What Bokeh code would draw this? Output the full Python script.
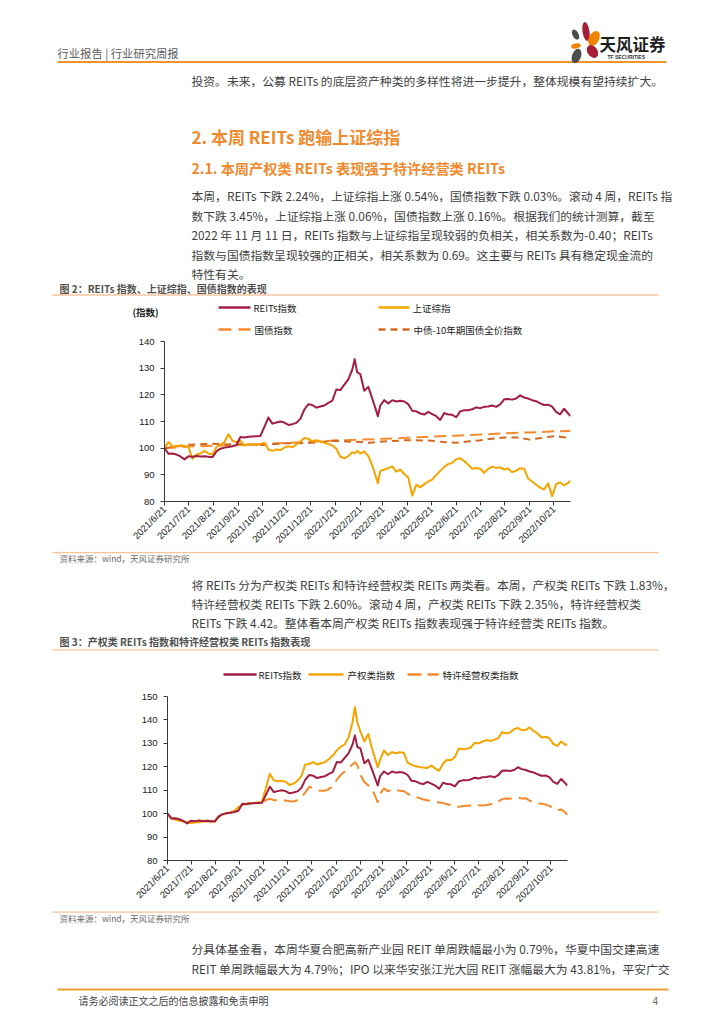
import math
import pandas as pd
from bokeh.plotting import figure
from bokeh.models import Range1d, FixedTicker, CustomJSTickFormatter
from bokeh.layouts import column
from bokeh.core.properties import value
from bokeh.embed import file_html
from bokeh.resources import INLINE

# ---------------- data ----------------
GRID_DATES = [
    "2021-06-21", "2021-06-26", "2021-07-01", "2021-07-06", "2021-07-11", "2021-07-16", "2021-07-21", "2021-07-26",
    "2021-07-31", "2021-08-05", "2021-08-10", "2021-08-15", "2021-08-20", "2021-08-25", "2021-08-30", "2021-09-04",
    "2021-09-09", "2021-09-14", "2021-09-19", "2021-09-24", "2021-09-29", "2021-10-04", "2021-10-09", "2021-10-14",
    "2021-10-19", "2021-10-24", "2021-10-29", "2021-11-03", "2021-11-08", "2021-11-13", "2021-11-18", "2021-11-23",
    "2021-11-28", "2021-12-03", "2021-12-08", "2021-12-13", "2021-12-18", "2021-12-23", "2021-12-28", "2022-01-02",
    "2022-01-07", "2022-01-12", "2022-01-17", "2022-01-22", "2022-01-27", "2022-02-01", "2022-02-06", "2022-02-11",
    "2022-02-14", "2022-02-17", "2022-02-21", "2022-02-26", "2022-03-03", "2022-03-08", "2022-03-15", "2022-03-18",
    "2022-03-23", "2022-03-28", "2022-04-02", "2022-04-07", "2022-04-12", "2022-04-17", "2022-04-22", "2022-04-27",
    "2022-05-02", "2022-05-07", "2022-05-12", "2022-05-17", "2022-05-22", "2022-05-27", "2022-06-01", "2022-06-06",
    "2022-06-11", "2022-06-16", "2022-06-21", "2022-06-26", "2022-07-01", "2022-07-06", "2022-07-11", "2022-07-16",
    "2022-07-21", "2022-07-26", "2022-07-31", "2022-08-05", "2022-08-10", "2022-08-15", "2022-08-20", "2022-08-25",
    "2022-08-30", "2022-09-04", "2022-09-09", "2022-09-14", "2022-09-19", "2022-09-24", "2022-09-29", "2022-10-04",
    "2022-10-09", "2022-10-14", "2022-10-19", "2022-10-24", "2022-10-29", "2022-11-03", "2022-11-08", "2022-11-11",
]

REITS = [
    100.0, 97.9, 98.0, 97.6, 96.9, 95.8, 97.0, 96.8, 97.1, 96.9,
    97.0, 96.8, 96.6, 98.8, 99.8, 100.2, 100.4, 100.7, 101.2, 104.2,
    104.0, 104.3, 104.4, 104.5, 104.6, 108.0, 111.5, 109.2, 109.6, 110.0,
    109.6, 108.7, 109.0, 109.5, 111.0, 114.5, 116.5, 116.2, 115.2, 115.6,
    116.0, 117.0, 117.8, 122.0, 121.8, 123.8, 125.8, 129.5,
    133.4, 128.5, 127.8, 121.5, 123.0, 118.6, 112.0, 116.0,
    118.0, 116.8, 118.0, 117.5, 117.8, 117.5, 116.5, 114.0, 113.8, 113.0,
    112.6, 113.6, 112.8, 112.0, 110.6, 113.2, 112.6, 112.5, 111.6, 113.8,
    114.2, 114.2, 114.6, 115.3, 115.0, 115.5, 115.6, 116.0, 115.5, 116.4,
    118.3, 118.4, 118.2, 118.6, 119.8, 119.0, 118.6, 118.0, 117.6, 116.8,
    116.2, 116.3, 115.6, 113.6, 112.7, 114.8, 113.0,
    112.0,
]

SSE = [
    100.0, 102.3, 100.6, 100.8, 101.0, 100.8, 100.5, 96.0, 97.6, 98.0,
    99.0, 98.0, 97.6, 100.4, 101.3, 102.2, 105.2, 102.8, 102.2, 102.8,
    100.9, 101.5, 101.5, 101.1, 101.6, 102.0, 99.5, 99.0, 99.5, 99.3,
    100.2, 100.7, 100.3, 101.5, 102.5, 103.8, 103.5, 102.6, 103.0, 102.6,
    102.0, 101.6, 101.0, 99.8, 96.8, 96.2, 97.0, 98.5,
    98.0, 99.0, 98.0, 98.8, 97.0, 93.5, 86.8, 91.5,
    92.0, 92.5, 93.2, 91.2, 92.0, 90.3, 89.0, 82.2, 86.3, 85.3,
    86.5, 87.5, 88.2, 90.0, 91.5, 93.0, 94.0, 94.5, 95.8, 96.2,
    95.2, 93.8, 92.3, 92.6, 92.3, 90.8, 92.2, 93.0, 92.6, 92.8,
    92.0, 92.4, 91.0, 91.5, 92.5, 92.3, 88.6, 87.5, 86.3, 85.2,
    84.5, 86.8, 82.0, 86.5, 87.2, 86.0, 87.0,
    87.8,
]

PROPERTY = [
    100.0, 98.0, 97.5, 97.0, 96.6, 96.3, 96.0, 96.2, 96.3, 96.6,
    96.8, 96.6, 96.8, 98.5, 99.8, 100.2, 100.5, 101.0, 102.8, 103.8,
    104.2, 104.5, 104.6, 104.8, 105.0, 111.0, 117.0, 114.2, 113.8, 114.0,
    113.6, 112.2, 112.8, 114.0, 116.0, 121.0, 121.2, 122.0, 121.0, 121.5,
    122.0, 123.3, 124.8, 127.0, 128.6, 129.5, 132.5, 139.0,
    145.5, 139.0, 135.0, 130.8, 134.0, 127.5, 119.8, 123.0,
    127.0, 125.0, 126.3, 125.8, 126.2, 126.0, 121.8, 120.8, 120.2, 119.9,
    119.7, 119.5, 120.5, 119.3, 118.3, 121.4, 123.0, 122.8, 124.2, 127.8,
    127.5, 127.7, 128.2, 130.2, 130.0, 130.8, 131.4, 131.0, 131.6, 132.2,
    134.8, 134.2, 134.6, 136.0, 136.6, 135.6, 135.8, 136.8, 135.3, 134.2,
    132.5, 132.8, 132.2, 129.8, 128.9, 130.8, 129.4,
    129.5,
]

FRANCHISE = [
    100.0, 98.0, 97.6, 97.2, 96.8, 96.5, 96.2, 96.4, 96.5, 96.8,
    97.0, 96.8, 96.9, 98.6, 99.8, 100.2, 100.5, 101.0, 102.8, 103.8,
    104.2, 104.4, 104.5, 104.6, 104.6, 105.8, 106.3, 105.8, 105.6, 105.5,
    105.6, 105.3, 105.2, 105.8, 107.0, 109.0, 111.5, 110.8, 110.0, 109.8,
    109.8, 110.5, 111.8, 114.5, 116.5, 118.0, 119.5, 121.0,
    122.0, 120.8, 116.5, 113.5, 112.0, 110.5, 104.8, 108.5,
    110.8, 109.5, 110.4, 110.0, 109.8, 109.6, 108.5, 107.8, 107.2, 106.6,
    106.0, 105.7, 105.5, 105.0, 104.8, 104.5, 104.0, 103.7, 103.0, 102.9,
    103.3, 103.4, 103.5, 103.6, 103.6, 103.5, 103.7, 104.0, 104.6, 105.2,
    106.2, 106.5, 106.4, 106.8, 106.9, 106.5, 106.6, 105.5, 104.9, 104.5,
    104.2, 103.9, 103.3, 102.2, 101.5, 101.8, 100.6,
    99.4,
]

BOND_DATES = ["2021-06-21", "2021-07-21", "2021-08-21", "2021-09-21", "2021-10-21", "2021-11-21",
              "2021-12-21", "2022-01-21", "2022-02-21", "2022-03-21", "2022-04-21", "2022-05-21",
              "2022-06-21", "2022-07-21", "2022-08-21", "2022-09-21", "2022-10-21", "2022-11-11"]
BOND = [100.0, 100.6, 100.9, 101.2, 101.6, 102.0, 102.4, 102.9, 103.2, 103.5, 103.9, 104.3,
        104.7, 105.1, 105.6, 105.9, 106.3, 106.4]

CGB10_DATES = ["2021-06-21", "2021-07-05", "2021-07-21", "2021-08-05", "2021-08-21", "2021-09-05",
               "2021-09-21", "2021-10-21", "2021-11-21", "2021-12-21", "2022-01-21", "2022-02-05",
               "2022-02-21", "2022-03-05", "2022-03-21", "2022-04-21", "2022-05-21", "2022-06-05",
               "2022-06-21", "2022-07-05", "2022-07-21", "2022-08-05", "2022-08-21", "2022-09-05",
               "2022-09-21", "2022-10-05", "2022-10-21", "2022-11-11"]
CGB10 = [100.0, 100.6, 101.3, 101.5, 101.7, 101.4, 101.5, 101.2, 101.8, 102.0, 102.8, 102.5,
         102.3, 102.0, 102.5, 103.0, 102.8, 102.3, 102.0, 102.5, 103.0, 103.5, 104.0, 104.0,
         103.2, 103.8, 104.5, 103.8]

X_TICK_DATES = ["2021-06-21", "2021-07-21", "2021-08-21", "2021-09-21", "2021-10-21", "2021-11-21",
                "2021-12-21", "2022-01-21", "2022-02-21", "2022-03-21", "2022-04-21", "2022-05-21",
                "2022-06-21", "2022-07-21", "2022-08-21", "2022-09-21", "2022-10-21"]
X_TICK_LABELS = ["2021/6/21", "2021/7/21", "2021/8/21", "2021/9/21", "2021/10/21", "2021/11/21",
                 "2021/12/21", "2022/1/21", "2022/2/21", "2022/3/21", "2022/4/21", "2022/5/21",
                 "2022/6/21", "2022/7/21", "2022/8/21", "2022/9/21", "2022/10/21"]
Y1_TICKS = [80, 90, 100, 110, 120, 130, 140]
Y2_TICKS = [80, 90, 100, 110, 120, 130, 140, 150]
X_START, X_END = "2021-06-21", "2022-11-11"

# ---------------- text ----------------
HEADER = "行业报告 | 行业研究周报"
INTRO = "投资。未来，公募 REITs 的底层资产种类的多样性将进一步提升，整体规模有望持续扩大。"
H1 = "2. 本周 REITs 跑输上证综指"
H2 = "2.1. 本周产权类 REITs 表现强于特许经营类 REITs"
P1 = ["本周，REITs 下跌 2.24%，上证综指上涨 0.54%，国债指数下跌 0.03%。滚动 4 周，REITs 指",
      "数下跌 3.45%，上证综指上涨 0.06%，国债指数上涨 0.16%。根据我们的统计测算，截至",
      "2022 年 11 月 11 日，REITs 指数与上证综指呈现较弱的负相关，相关系数为-0.40；REITs",
      "指数与国债指数呈现较强的正相关，相关系数为 0.69。这主要与 REITs 具有稳定现金流的",
      "特性有关。"]
FIG2 = "图 2：REITs 指数、上证综指、国债指数的表现"
SRC = "资料来源：wind，天风证券研究所"
P2 = ["将 REITs 分为产权类 REITs 和特许经营权类 REITs 两类看。本周，产权类 REITs 下跌 1.83%，",
      "特许经营权类 REITs 下跌 2.60%。滚动 4 周，产权类 REITs 下跌 2.35%，特许经营权类",
      "REITs 下跌 4.42。整体看本周产权类 REITs 指数表现强于特许经营类 REITs 指数。"]
FIG3 = "图 3：产权类 REITs 指数和特许经营权类 REITs 指数表现"
P3 = ["分具体基金看，本周华夏合肥高新产业园 REIT 单周跌幅最小为 0.79%，华夏中国交建高速",
      "REIT 单周跌幅最大为 4.79%；IPO 以来华安张江光大园 REIT 涨幅最大为 43.81%，平安广交"]
FOOT = "请务必阅读正文之后的信息披露和免责申明"

# ---------------- style ----------------
CJK = "Noto Sans CJK SC"
ARIAL = "Liberation Sans"
RED = "#A31D42"
YELLOW = "#F5A400"
ORANGE = "#F58A2C"
DORANGE = "#D4681F"
HEAD_ORANGE = "#EF8A2E"
BODY = "#404040"
W = 724


def page_fig(y0, y1):
    p = figure(width=W, height=y1 - y0, x_range=Range1d(0, W), y_range=Range1d(y1, y0),
               x_axis_location=None, y_axis_location=None, min_border=0, frame_align=False,
               output_backend="svg", toolbar_location=None, outline_line_color=None)
    p.xgrid.visible = False
    p.ygrid.visible = False
    return p


def txt(p, x, y, s, size, color=BODY, font=CJK, style="normal", align="left"):
    p.text(x=[x], y=[y], text=[s], text_font=value(font), text_font_size=size,
           text_color=color, text_font_style=style, text_align=align, text_baseline="middle")


def hline(p, x0, x1, y, color, width, dash="solid"):
    p.line(x=[x0, x1], y=[y, y], line_color=color, line_width=width, line_dash=dash)


def chart_fig(y0, y1, ftop, fbot, fleft, fright, ymin, ymax, yticks):
    p = figure(width=W, height=y1 - y0, x_axis_type="datetime",
               x_range=Range1d(pd.Timestamp(X_START), pd.Timestamp(X_END)),
               y_range=Range1d(ymin, ymax),
               min_border_left=fleft, min_border_right=W - fright,
               min_border_top=ftop - y0, min_border_bottom=y1 - fbot, frame_align=False,
               output_backend="svg", toolbar_location=None, outline_line_color=None)
    p.xgrid.visible = False
    p.ygrid.visible = False
    tick_ms = [pd.Timestamp(d).value / 1e6 for d in X_TICK_DATES]
    p.xaxis.ticker = FixedTicker(ticks=tick_ms)
    p.xaxis.formatter = CustomJSTickFormatter(
        args=dict(tms=tick_ms, labs=X_TICK_LABELS),
        code="for (let i = 0; i < tms.length; i++) { if (Math.abs(tms[i] - tick) < 43200000) { return labs[i]; } } return '';")
    p.yaxis.ticker = FixedTicker(ticks=yticks)
    for ax in (p.xaxis[0], p.yaxis[0]):
        ax.axis_line_color = "#3a3a3a"
        ax.axis_line_width = 1
        ax.major_tick_line_color = "#3a3a3a"
        ax.minor_tick_line_color = None
        ax.major_tick_in = 0
        ax.major_tick_out = 4
        ax.major_label_text_font = ARIAL
        ax.major_label_text_font_size = "9.5px"
        ax.major_label_text_color = "#1a1a1a"
    p.xaxis.major_label_orientation = math.pi / 4
    p.xaxis.major_label_standoff = 2
    p.yaxis.major_label_standoff = 6
    return p


grid_x = pd.to_datetime(GRID_DATES)

# ---------------- top block (page y 0..335) ----------------
top = page_fig(0, 335)
txt(top, 57, 52, HEADER, "11.3px", "#5a5a5a")
hline(top, 57, 666, 61.5, "#F0932B", 2)
# logo
top.ellipse(x=[575, 585.5, 593.5, 575.5, 592, 576], y=[34, 31, 38, 45.5, 51, 55.5],
            width=[6, 7, 10, 10, 10, 9], height=[11, 19, 16, 5, 14, 15],
            angle=[0.5, 0.15, -0.5, 0.2, 0.6, -0.35],
            fill_color=["#4D4D4D", "#A51E36", "#F08300", "#F08300", "#A51E36", "#4D4D4D"],
            line_color=None)
txt(top, 599, 43.5, "天风证券", "16.5px", "#1f1f1f", style="bold")
txt(top, 607, 56, "TF SECURITIES", "5px", "#333333", font=ARIAL, style="bold")
txt(top, 191, 80, INTRO, "11.8px")
txt(top, 191, 136, H1, "17px", HEAD_ORANGE, style="bold")
txt(top, 191, 167.5, H2, "14.2px", HEAD_ORANGE, style="bold")
for i, line in enumerate(P1):
    txt(top, 191, 195 + 19.5 * i, line, "11.8px")
txt(top, 59, 287.5, FIG2, "10px", "#505050", style="bold")
hline(top, 52, 658, 294.5, "#F7C49A", 1.3)
txt(top, 132, 311.5, "(指数)", "9.5px", "#222222", style="bold")
hline(top, 218, 250, 307, RED, 2.5)
txt(top, 253, 307, "REITs指数", "9.5px", "#222222")
hline(top, 378, 409, 307, YELLOW, 2.5)
txt(top, 412, 307, "上证综指", "9.5px", "#222222")
hline(top, 218, 250, 329, ORANGE, 2.5, "13 7")
txt(top, 254, 329, "国债指数", "9.5px", "#222222")
hline(top, 378, 410, 329, DORANGE, 2.5, "7 5")
txt(top, 413, 329, "中债-10年期国债全价指数", "9.5px", "#222222")

# ---------------- chart 1 (page y 335..551) ----------------
c1 = chart_fig(335, 551, 341, 502, 164, 570, 80, 140, Y1_TICKS)
c1.line(x=pd.to_datetime(BOND_DATES), y=BOND, line_color=ORANGE, line_width=2, line_dash="12 6")
c1.line(x=pd.to_datetime(CGB10_DATES), y=CGB10, line_color=DORANGE, line_width=2, line_dash="7 5")
c1.line(x=grid_x, y=SSE, line_color=YELLOW, line_width=2, line_join="round")
c1.line(x=grid_x, y=REITS, line_color=RED, line_width=2, line_join="round")

# ---------------- middle block (page y 551..690) ----------------
mid = page_fig(551, 690)
hline(mid, 52, 658, 552, "#F7C49A", 1.3)
txt(mid, 59, 557.5, SRC, "8.5px", "#6a6a6a")
for i, line in enumerate(P2):
    txt(mid, 191, 583.5 + 19.3 * i, line, "11.8px")
txt(mid, 59, 641, FIG3, "10px", "#505050", style="bold")
hline(mid, 52, 658, 649.3, "#F7C49A", 1.3)
hline(mid, 223, 256, 674, RED, 2.5)
txt(mid, 258, 674, "REITs指数", "9.5px", "#222222")
hline(mid, 308, 343, 674, YELLOW, 2.5)
txt(mid, 347, 674, "产权类指数", "9.5px", "#222222")
hline(mid, 407, 438, 674, ORANGE, 2.5, "14 6")
txt(mid, 442, 674, "特许经营权类指数", "9.5px", "#222222")

# ---------------- chart 2 (page y 690..910) ----------------
c2 = chart_fig(690, 910, 696, 862, 167, 567, 80, 150, Y2_TICKS)
c2.line(x=grid_x, y=FRANCHISE, line_color=ORANGE, line_width=2, line_dash="14 7")
c2.line(x=grid_x, y=PROPERTY, line_color=YELLOW, line_width=2, line_join="round")
c2.line(x=grid_x, y=REITS, line_color=RED, line_width=2, line_join="round")

# ---------------- bottom block (page y 910..1024) ----------------
bot = page_fig(910, 1024)
hline(bot, 52, 658, 911.7, "#F7C49A", 1.3)
txt(bot, 59, 917.5, SRC, "8.5px", "#6a6a6a")
for i, line in enumerate(P3):
    txt(bot, 191, 948 + 19.5 * i, line, "11.8px")
hline(bot, 57, 668, 989, "#F0A030", 2)
txt(bot, 78, 1000, FOOT, "10px", "#444444")
txt(bot, 652, 1000, "4", "10px", "#666666", font=ARIAL)

page = column(top, c1, mid, c2, bot, spacing=0)
open("out.html", "w").write(file_html(page, INLINE))
